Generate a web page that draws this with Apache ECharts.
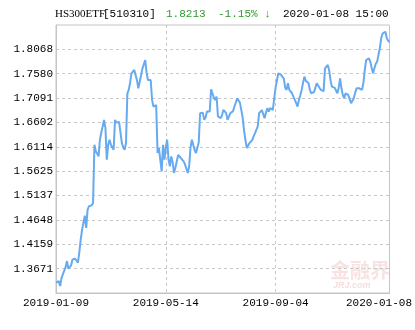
<!DOCTYPE html>
<html>
<head>
<meta charset="utf-8">
<script src="https://cdn.jsdelivr.net/npm/echarts@6/dist/echarts.min.js"></script>
<style>html,body{margin:0;padding:0;background:#fff;}#c{width:415px;height:330px;}</style>
</head>
<body>
<div id="c"></div>
<script>
// ---- data ----
var startDate = '2019-01-09';
var endDate = '2020-01-08';
var holidays = ['2019-02-04','2019-02-05','2019-02-06','2019-02-07','2019-02-08','2019-04-05',
  '2019-05-01','2019-05-02','2019-05-03','2019-06-07','2019-09-13',
  '2019-10-01','2019-10-02','2019-10-03','2019-10-04','2019-10-07','2020-01-01'];
var labelDates = ['2019-01-09','2019-05-14','2019-09-04','2020-01-08'];
var gridDates = ['2019-05-14','2019-09-04'];
var yTicks = [1.3671,1.4159,1.4648,1.5137,1.5625,1.6114,1.6602,1.7091,1.7580,1.8068];
var yMin = 1.3182, yMax = 1.8557;
var prices = [
1.3389,1.3356,1.3420,1.3323,1.3480,1.3556,1.3589,1.3700,1.3822,1.3669,
1.3690,1.3735,1.3855,1.3840,1.3869,1.3860,1.3789,1.4000,1.4250,1.4450,
1.4589,1.4735,1.4489,1.4850,1.4922,1.4955,1.4940,1.4989,1.6155,1.6022,
1.5980,1.5922,1.6255,1.6400,1.6522,1.6655,1.6500,1.5855,1.6150,1.6255,
1.6155,1.6100,1.6055,1.6655,1.6600,1.6622,1.6610,1.6642,1.6189,1.6100,
1.6055,1.6189,1.7188,1.7255,1.7400,1.7588,1.7620,1.7655,1.7688,1.7450,
1.7288,1.7255,1.7550,1.7688,1.7722,1.7855,1.7600,1.7455,1.7470,1.7455,
1.7055,1.6922,1.6955,1.6950,1.5989,1.6089,1.5850,1.5622,1.6155,1.5855,
1.6100,1.6255,1.5855,1.5722,1.5922,1.5800,1.5589,1.5700,1.5822,1.5950,
1.5989,1.5889,1.5850,1.5822,1.5760,1.5722,1.5589,1.5722,1.6100,1.6255,
1.6155,1.6050,1.5989,1.6022,1.6200,1.6788,1.6822,1.6800,1.6655,1.6700,
1.6822,1.6800,1.6822,1.7268,1.7255,1.7100,1.7055,1.7122,1.6722,1.6688,
1.6688,1.6750,1.6855,1.6820,1.6788,1.6655,1.6720,1.6788,1.6755,1.6830,
1.6922,1.7000,1.7088,1.7088,1.7000,1.6855,1.6700,1.6450,1.6255,1.6089,
1.6055,1.6189,1.6155,1.6250,1.6322,1.6388,1.6420,1.6522,1.6788,1.6822,
1.6850,1.6888,1.6688,1.6800,1.6888,1.6822,1.6888,1.6870,1.6855,1.7088,
1.7300,1.7450,1.7588,1.7570,1.7555,1.7588,1.7480,1.7300,1.7255,1.7388,
1.7255,1.7230,1.7188,1.7120,1.7055,1.6990,1.6922,1.7055,1.7150,1.7255,
1.7400,1.7522,1.7440,1.7422,1.7388,1.7250,1.7188,1.7222,1.7210,1.7222,
1.7388,1.7355,1.7300,1.7255,1.7222,1.7230,1.7688,1.7720,1.7755,1.7655,
1.7450,1.7322,1.7322,1.7300,1.7288,1.7188,1.7300,1.7488,1.7288,1.7150,
1.7088,1.7188,1.7222,1.7150,1.7122,1.6988,1.7022,1.7088,1.7200,1.7288,
1.7280,1.7288,1.7270,1.7255,1.7400,1.7650,1.7855,1.7870,1.7888,1.7822,
1.7700,1.7588,1.7688,1.7780,1.7822,1.7855,1.8100,1.8300,1.8388,1.8355,
1.8422,1.8300,1.8240,1.8213
];
var headName = 'HS300ETF';
var headCode = '[510310]';
var headPrice = '1.8213';
var headChange = '-1.15% \u2193';
var headTime = '2020-01-08 15:00';

// ---- trading-day categories ----
function pad(n){return n<10?'0'+n:''+n;}
function fmt(d){return d.getUTCFullYear()+'-'+pad(d.getUTCMonth()+1)+'-'+pad(d.getUTCDate());}
var dates = [];
(function(){
  var d = new Date(startDate+'T00:00:00Z'), e = new Date(endDate+'T00:00:00Z');
  while (d <= e) {
    var wd = d.getUTCDay(), s = fmt(d);
    if (wd !== 0 && wd !== 6 && holidays.indexOf(s) < 0) dates.push(s);
    d = new Date(d.getTime()+86400000);
  }
})();

var mono = '"Liberation Mono","DejaVu Sans Mono",monospace';
var chart = echarts.init(document.getElementById('c'), null, {renderer:'canvas'});
chart.setOption({
  animation: false,
  backgroundColor: '#fff',
  grid: {left: 56, right: 23, top: 25, bottom: 37, show: true, borderColor: '#c4c4c4', borderWidth: 1},
  xAxis: {
    type: 'category', data: dates, boundaryGap: false,
    axisLine: {show: true, lineStyle: {color: '#c4c4c4'}},
    axisTick: {show: false},
    axisLabel: {
      interval: function(i, v){ return labelDates.indexOf(v) >= 0; },
      color: '#000', fontFamily: mono, fontSize: 11, margin: 5,
      formatter: function(v){ return v === endDate ? '{last|'+v+'}' : v; },
      rich: {last: {padding: [0, 21, 0, 0], color: '#000', fontFamily: mono, fontSize: 11}}
    },
    splitLine: {show: true, interval: function(i, v){ return gridDates.indexOf(v) >= 0; },
      lineStyle: {color: '#c8c8c8', type: [3, 3]}}
  },
  yAxis: {
    type: 'value', min: yMin, max: yMax,
    axisLine: {show: true, lineStyle: {color: '#c4c4c4'}},
    axisTick: {show: false, customValues: yTicks},
    axisLabel: {customValues: yTicks, color: '#000', fontFamily: mono, fontSize: 11, margin: 3,
      formatter: function(v){ return v.toFixed(4); }},
    splitLine: {show: true, lineStyle: {color: '#c8c8c8', type: [3, 3]}}
  },
  series: [{
    type: 'line', data: prices, showSymbol: false, smooth: false,
    lineStyle: {color: '#66aaf0', width: 2}, itemStyle: {color: '#66aaf0'}
  }],
  graphic: [
    {type:'text', left: 55, top: 9, style:{text: headName, font: '11px "Liberation Serif",serif', fill:'#000'}},
    {type:'text', left: 103, top: 9, style:{text: headCode, font: '11px '+mono, fill:'#000'}},
    {type:'text', left: 166, top: 9, style:{text: headPrice, font: '11px '+mono, fill:'#2f9a2f'}},
    {type:'text', left: 218, top: 9, style:{text: headChange, font: '11px '+mono, fill:'#2f9a2f'}},
    {type:'text', left: 283, top: 9, style:{text: headTime, font: '11px '+mono, fill:'#000'}},
    {type:'text', left: 330, top: 260, z: -1, style:{text: '金融界', font: 'bold 20px "Noto Sans CJK SC",sans-serif', fill:'rgba(225,110,110,0.2)'}},
    {type:'text', left: 333, top: 281, z: -1, style:{text: 'JRJ.com', font: 'italic bold 9px "Liberation Sans",sans-serif', fill:'rgba(225,110,110,0.25)'}}
  ]
});
</script>
</body>
</html>
